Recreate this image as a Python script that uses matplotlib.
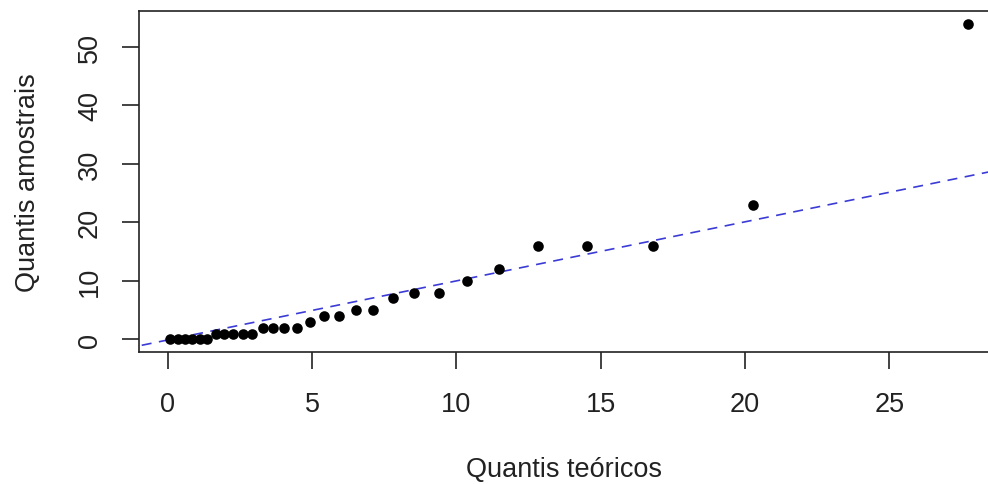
import numpy as np
import matplotlib
matplotlib.use('Agg')
import matplotlib.pyplot as plt

plt.rcParams['font.family'] = ['Liberation Sans', 'DejaVu Sans']

# theoretical quantiles (x) and sample quantiles (y)
teoricos = [0.07, 0.35, 0.59, 0.83, 1.11, 1.35,
            1.66, 1.94, 2.25, 2.6, 2.91,
            3.29, 3.64, 4.02, 4.47,
            4.92, 5.41, 5.93, 6.52, 7.1,
            7.8, 8.53, 9.39, 10.36, 11.47,
            12.83, 14.52, 16.81, 20.28, 27.72]
amostrais = [0, 0, 0, 0, 0, 0,
             1, 1, 1, 1, 1,
             2, 2, 2, 2,
             3, 4, 4, 5, 5,
             7, 8, 8, 10, 12,
             16, 16, 16, 23, 54]
intercept = -0.1
slope = 1.01

fig = plt.figure(figsize=(9.88, 4.85), dpi=100)
ax = fig.add_axes([0.1407, 0.2722, 0.8593, 0.7031])

ax.scatter(teoricos, amostrais, s=58, color='black', zorder=3, linewidths=0)
xx = np.array([-1.5, 30])
ax.plot(xx, intercept + slope * xx, color='#3b3bd6', lw=1.2, dashes=(6, 4.5))

ax.set_xlim(-1.0, 28.42)
ax.set_ylim(-2.16, 56.16)
ax.set_xticks([0, 5, 10, 15, 20, 25])
ax.set_yticks([0, 10, 20, 30, 40, 50])
ax.spines['right'].set_visible(False)
for s in ax.spines.values():
    s.set_linewidth(1.2)
    s.set_color('#222222')
ax.tick_params(length=12, width=1.2, labelsize=19.5, color='#222222', labelcolor='#222222')
ax.tick_params(axis='x', pad=16)
ax.tick_params(axis='y', pad=14)
plt.setp(ax.get_yticklabels(), rotation=90, va='center')

ax.set_xlabel('Quantis teóricos', fontsize=19.5, labelpad=28, color='#222222')
ax.set_ylabel('Quantis amostrais', fontsize=19.5, labelpad=26, color='#222222')

fig.savefig('out.png', dpi=100)
